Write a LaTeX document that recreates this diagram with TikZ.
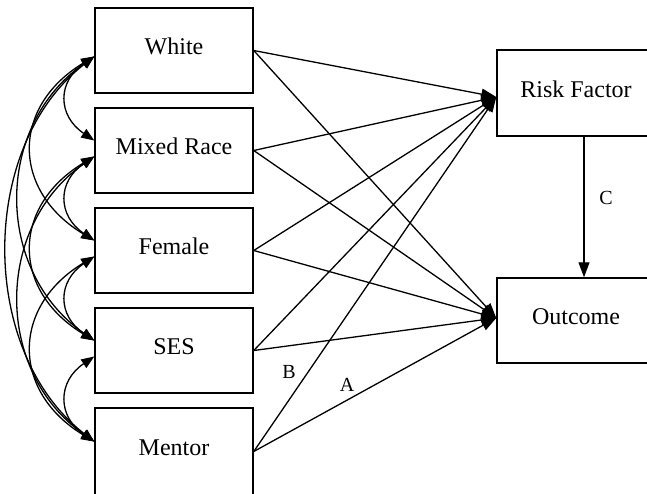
\documentclass[tikz,border=0pt]{standalone}
\usepackage{fontspec}
\setmainfont{Liberation Serif}
\usetikzlibrary{arrows.meta}
\begin{document}
\begin{tikzpicture}[x=1pt,y=1pt,
  box/.style={draw, line width=1.5pt, minimum width=158pt, minimum height=85pt, inner sep=0pt,
    text height=16pt, text depth=8pt, font=\fontsize{24}{28}\selectfont},
  pathar/.style={line width=1.3pt, -{Triangle[length=15pt,width=11pt]}},
  cov/.style={line width=1.3pt, {Triangle[length=13pt,width=10pt]}-{Triangle[length=13pt,width=10pt]}},
  lab/.style={font=\fontsize{20}{22}\selectfont, inner sep=0pt}]
\clip (0,0) rectangle (647,-493);
\fill[white] (0,0) rectangle (647,-493);

\node[box] (white)  at (174,-50.5)  {White};
\node[box] (mixed)  at (174,-150.5) {Mixed Race};
\node[box] (female) at (174,-250.5) {Female};
\node[box] (ses)    at (174,-350.5) {SES};
\node[box, minimum height=87pt] (mentor) at (174,-451.5) {Mentor};
\node[box, minimum height=86pt] (risk) at (576,-93) {Risk Factor};
\node[box] (outcome) at (576,-320.5) {Outcome};

% direct paths
\foreach \n in {white,mixed,female,ses,mentor}{
  \draw[pathar] (\n.east) -- ([yshift=-4pt]risk.west);
  \draw[pathar] (\n.east) -- ([yshift=2.5pt]outcome.west);
}
\draw[pathar] ([xshift=8pt]risk.south) -- ([xshift=8pt]outcome.north);

% covariances
% distance 1
\draw[cov] ([yshift=-6pt]white.west) .. controls +(-37,-25) and +(-37,25) .. ([yshift=10pt]mixed.west);
\draw[cov] ([yshift=-6pt]mixed.west) .. controls +(-37,-25) and +(-37,25) .. ([yshift=10pt]female.west);
\draw[cov] ([yshift=-6pt]female.west) .. controls +(-37,-25) and +(-37,25) .. ([yshift=10pt]ses.west);
\draw[cov] ([yshift=-6pt]ses.west) .. controls +(-37,-25) and +(-37,25) .. ([yshift=10pt]mentor.west);
% distance 2
\draw[cov] ([yshift=-6pt]white.west) .. controls +(-83,-50) and +(-83,50) .. ([yshift=10pt]female.west);
\draw[cov] ([yshift=-6pt]mixed.west) .. controls +(-83,-50) and +(-83,50) .. ([yshift=10pt]ses.west);
\draw[cov] ([yshift=-6pt]female.west) .. controls +(-83,-50) and +(-83,50) .. ([yshift=10pt]mentor.west);
% distance 3
\draw[cov] ([yshift=-6pt]white.west) .. controls +(-100,-70) and +(-100,70) .. ([yshift=10pt]ses.west);
\draw[cov] ([yshift=-6pt]mixed.west) .. controls +(-100,-70) and +(-100,70) .. ([yshift=10pt]mentor.west);
% distance 4
\draw[cov] ([yshift=-6pt]white.west) .. controls +(-116,-90) and +(-116,90) .. ([yshift=10pt]mentor.west);

% labels
\node[lab] (labB) at (289,-372) {B};
\node[lab] (labA) at (347,-385) {A};
\node[lab] (labC) at (606,-198) {C};
\end{tikzpicture}
\end{document}
